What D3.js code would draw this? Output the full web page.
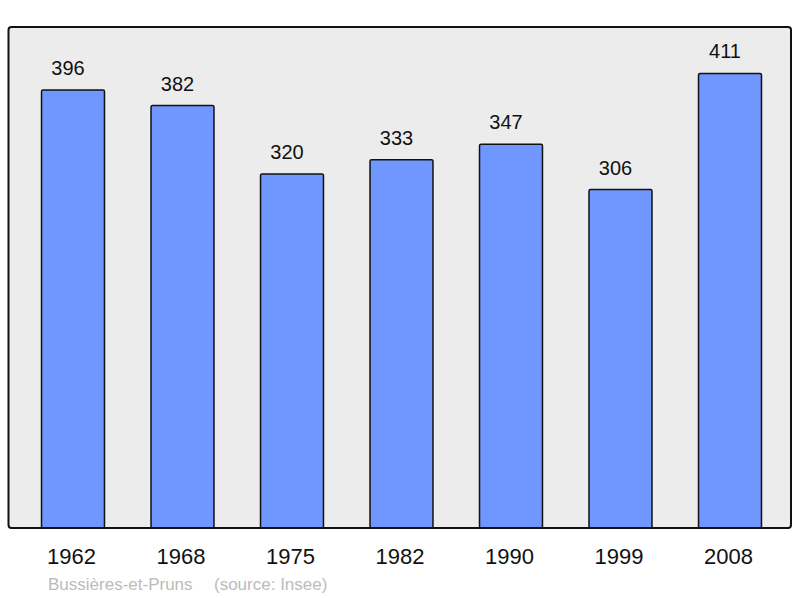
<!DOCTYPE html>
<html><head><meta charset="utf-8">
<script src="https://cdn.jsdelivr.net/npm/d3@7"></script>
<style>body{margin:0;background:#fff}svg{display:block}</style>
</head><body>
<svg id="c" width="800" height="598"></svg>
<script>
const years = ["1962","1968","1975","1982","1990","1999","2008"];
const population = [396,382,320,333,347,306,411];
const commune = "Bussières-et-Pruns";
const source = "(source: Insee)";

const svg = d3.select("#c");
const font = "'Liberation Sans', Arial, sans-serif";
const frame = {x0: 8.5, y0: 27, x1: 791, y1: 528};

svg.append("rect").attr("x", frame.x0).attr("y", frame.y0)
  .attr("width", frame.x1 - frame.x0).attr("height", frame.y1 - frame.y0)
  .attr("rx", 3).attr("fill", "#ececec").attr("stroke", "none");

const x = d3.scaleBand().domain(years).range([18.25, 784.75])
  .paddingInner(0.425).paddingOuter(0.2125);
const y = d3.scaleLinear().domain([0, 453]).range([frame.y1, frame.y0]);

svg.selectAll("rect.bar").data(years).enter().append("rect")
  .attr("class", "bar")
  .attr("x", d => x(d)).attr("width", x.bandwidth())
  .attr("y", (d, i) => y(population[i]))
  .attr("height", (d, i) => y(0) - y(population[i]))
  .attr("rx", 1.5)
  .attr("fill", "#7096ff").attr("stroke", "#111").attr("stroke-width", 1.5);

svg.selectAll("text.val").data(years).enter().append("text")
  .attr("class", "val")
  .attr("x", d => x(d) + x.bandwidth() / 2 - 5)
  .attr("y", (d, i) => y(population[i]) - 15)
  .attr("text-anchor", "middle").attr("font-family", font).attr("font-size", 20)
  .attr("fill", "#111")
  .text((d, i) => population[i]);

// frame border on top
svg.append("rect").attr("x", frame.x0).attr("y", frame.y0)
  .attr("width", frame.x1 - frame.x0).attr("height", frame.y1 - frame.y0)
  .attr("rx", 3).attr("fill", "none").attr("stroke", "#111").attr("stroke-width", 2);

const axis = d3.axisBottom(x).tickSize(0).tickPadding(0);
const g = svg.append("g").attr("transform", `translate(0,${frame.y1})`).call(axis);
g.select(".domain").remove();
g.selectAll("text").attr("font-family", font).attr("font-size", 22)
  .attr("fill", "#111").attr("dy", null).attr("y", 36).attr("x", -1.5);

svg.append("text").attr("x", 48).attr("y", 590).attr("font-family", font)
  .attr("font-size", 17).attr("fill", "#bbb")
  .text(commune);
svg.append("text").attr("x", 214).attr("y", 590).attr("font-family", font)
  .attr("font-size", 17).attr("fill", "#bbb")
  .text(source);
</script>
</body></html>
